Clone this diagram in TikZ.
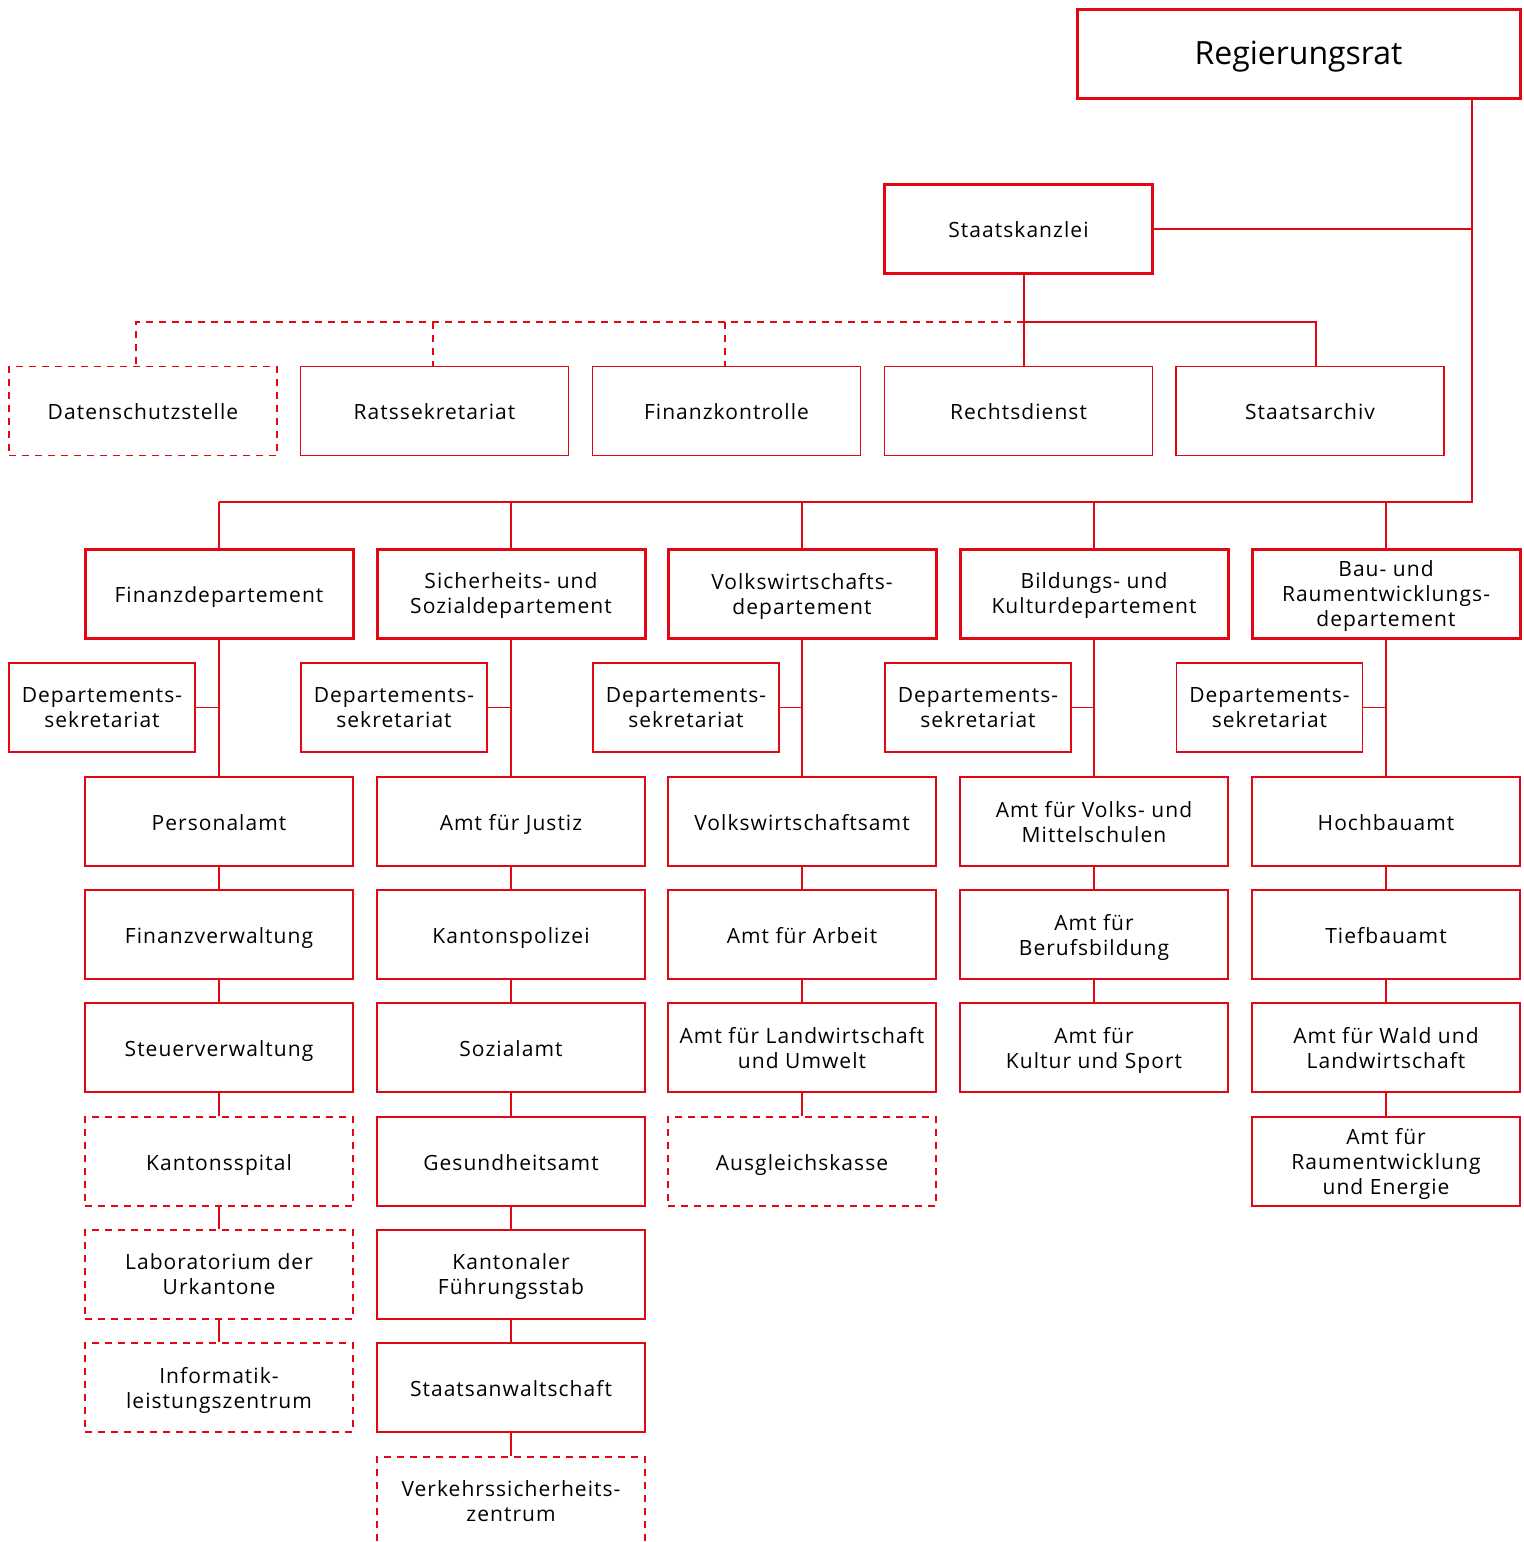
\documentclass[tikz,border=0pt]{standalone}
\usepackage{fontspec}
\setmainfont{Open Sans}
\newfontfamily\boxfont[LetterSpace=5]{Open Sans}
\definecolor{rd}{HTML}{E30613}
\newcommand{\topstrut}{\rule{0pt}{12.5pt}}
\newcommand{\bigtopstrut}{\rule{0pt}{17pt}}
\newcommand{\bigbotstrut}{\rule[-4pt]{0pt}{0pt}}
\begin{document}
\begin{tikzpicture}[x=0.5pt,y=-0.5pt,
  box/.style={draw=rd, line width=0.75pt, minimum width=134pt, minimum height=44.5pt,
    align=center, inner sep=0pt, font=\boxfont\fontsize{10.5}{12.5}\selectfont,
    execute at begin node=\topstrut, execute at end node=\strut},
  ml/.style={text depth=-2.75pt},
  dept/.style={box, line width=1.5pt},
  dbox/.style={box, dash pattern=on 3.5pt off 3pt},
  sek/.style={box, ml, minimum width=93pt},
  ln/.style={draw=rd, line width=0.75pt},
  dln/.style={draw=rd, line width=0.75pt, dash pattern=on 3.5pt off 3pt}]
\clip (0,0) rectangle (1523,1542);
\useasboundingbox (0,0) rectangle (1523,1542);
% top
\node[dept, minimum width=221.5pt, font=\fontsize{16}{19}\selectfont,
  execute at begin node=\bigtopstrut, execute at end node=\bigbotstrut] (rr) at (1298.5,53.5) {Regierungsrat};
\node[dept] (sk) at (1018.5,229) {Staatskanzlei};
% row 2
\node[dbox] (ds) at (143,411) {Datenschutzstelle};
\node[box] (rs) at (434.5,411) {Ratssekretariat};
\node[box] (fk) at (726.5,411) {Finanzkontrolle};
\node[box] (rdn) at (1018.5,411) {Rechtsdienst};
\node[box] (sa) at (1310,411) {Staatsarchiv};
% departments
\node[dept] (d1) at (219,593.5) {Finanzdepartement};
\node[dept, ml] (d2) at (511,593.5) {Sicherheits- und\\Sozialdepartement};
\node[dept, ml] (d3) at (802,593.5) {Volkswirtschafts-\\departement};
\node[dept, ml] (d4) at (1094,593.5) {Bildungs- und\\Kulturdepartement};
\node[dept, ml] (d5) at (1386,593.5) {Bau- und\\Raumentwicklungs-\\departement};
% secretariats
\foreach \i/\x in {1/102,2/394,3/686,4/978,5/1269.5}
  \node[sek] (s\i) at (\x,707.5) {Departements-\\sekretariat};
% column 1
\node[box] (a1) at (219,821.5) {Personalamt};
\node[box] (a2) at (219,934.5) {Finanzverwaltung};
\node[box] (a3) at (219,1047.5) {Steuerverwaltung};
\node[dbox] (a4) at (219,1161.5) {Kantonsspital};
\node[dbox, ml] (a5) at (219,1274.5) {Laboratorium der\\Urkantone};
\node[dbox, ml] (a6) at (219,1387.5) {Informatik-\\leistungszentrum};
% column 2
\node[box] (b1) at (511,821.5) {Amt für Justiz};
\node[box] (b2) at (511,934.5) {Kantonspolizei};
\node[box] (b3) at (511,1047.5) {Sozialamt};
\node[box] (b4) at (511,1161.5) {Gesundheitsamt};
\node[box, ml] (b5) at (511,1274.5) {Kantonaler\\Führungsstab};
\node[box] (b6) at (511,1387.5) {Staatsanwaltschaft};
\node[dbox, ml] (b7) at (511,1501.5) {Verkehrssicherheits-\\zentrum};
% column 3
\node[box] (c1) at (802,821.5) {Volkswirtschaftsamt};
\node[box] (c2) at (802,934.5) {Amt für Arbeit};
\node[box, ml] (c3) at (802,1047.5) {Amt für Landwirtschaft\\und Umwelt};
\node[dbox] (c4) at (802,1161.5) {Ausgleichskasse};
% column 4
\node[box, ml] (e1) at (1094,821.5) {Amt für Volks- und\\Mittelschulen};
\node[box, ml] (e2) at (1094,934.5) {Amt für\\Berufsbildung};
\node[box, ml] (e3) at (1094,1047.5) {Amt für\\Kultur und Sport};
% column 5
\node[box] (f1) at (1386,821.5) {Hochbauamt};
\node[box] (f2) at (1386,934.5) {Tiefbauamt};
\node[box, ml] (f3) at (1386,1047.5) {Amt für Wald und\\Landwirtschaft};
\node[box, ml] (f4) at (1386,1161.5) {Amt für\\Raumentwicklung\\und Energie};
% connectors top
\coordinate (j) at (1472,502);
\coordinate (k) at (1024,322);
\coordinate (ka) at (1316,322);
\draw[ln] (rr.south -| j) -- (j) -- (j -| d1.north);
\draw[ln] (sk.east) -- (sk.east -| j);
\draw[ln] (sk.south -| k) -- (k) -- (k |- rdn.north);
\draw[ln] (k) -- (ka) -- (ka |- sa.north);
\coordinate (q1) at (136,322);
\coordinate (q2) at (433,322);
\coordinate (q3) at (725,322);
\draw[dln] (k) -- (q1) -- (q1 |- ds.north);
\draw[dln] (q2) -- (q2 |- rs.north);
\draw[dln] (q3) -- (q3 |- fk.north);
\foreach \d in {d1,d2,d3,d4,d5}
  \draw[ln] (\d.north) -- (\d.north |- j);
% columns
\foreach \d/\s/\t in {d1/s1/a1,d2/s2/b1,d3/s3/c1,d4/s4/e1,d5/s5/f1}{
  \draw[ln] (\d.south) -- (\t.north);
  \draw[ln] (\s.east) -- (\s.east -| \d.south);
}
\foreach \u/\v in {a1/a2,a2/a3,a3/a4,a4/a5,a5/a6,b1/b2,b2/b3,b3/b4,b4/b5,b5/b6,b6/b7,c1/c2,c2/c3,c3/c4,e1/e2,e2/e3,f1/f2,f2/f3,f3/f4}
  \draw[ln] (\u.south) -- (\v.north);
\end{tikzpicture}
\end{document}
